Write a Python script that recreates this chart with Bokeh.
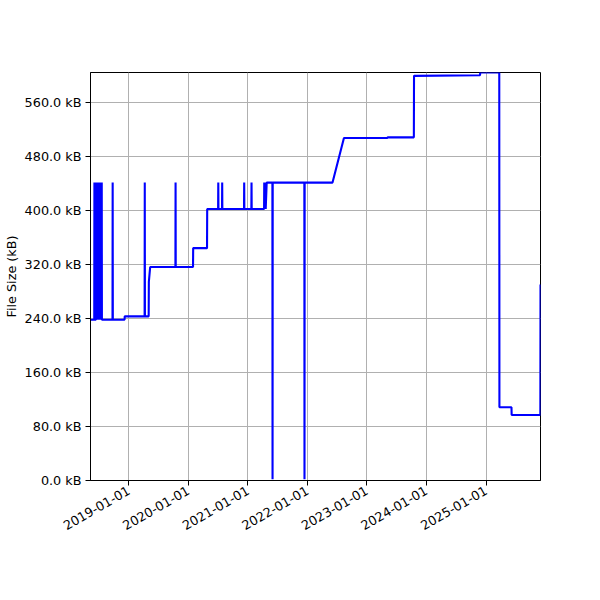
import math

import pandas as pd
from bokeh.plotting import figure
from bokeh.models import Range1d, FixedTicker, DatetimeTickFormatter, PrintfTickFormatter
from bokeh.embed import file_html
from bokeh.resources import INLINE

# file size of the tracked file at each commit (kB)
commit_dates = [
    "2018-05-11", "2018-06-03", "2018-06-04", "2018-06-05", "2018-06-13",
    "2018-06-14", "2018-06-17", "2018-06-20", "2018-06-23", "2018-06-26",
    "2018-06-29", "2018-07-02", "2018-07-05", "2018-07-08", "2018-07-11",
    "2018-07-14", "2018-07-17", "2018-07-19", "2018-07-20",
    "2018-09-23", "2018-09-24", "2018-09-25",
    "2018-12-06", "2018-12-07",
    "2019-04-08", "2019-04-09", "2019-04-10",
    "2019-05-03", "2019-05-04", "2019-05-12",
    "2019-10-14", "2019-10-15", "2019-10-16",
    "2020-01-30", "2020-01-31",
    "2020-04-25", "2020-04-26",
    "2020-07-02", "2020-07-03", "2020-07-04",
    "2020-07-26", "2020-07-27", "2020-07-28",
    "2020-12-08", "2020-12-09", "2020-12-10",
    "2021-01-22", "2021-01-23", "2021-01-24",
    "2021-04-10", "2021-04-11", "2021-04-13", "2021-04-18", "2021-04-20",
    "2021-04-26",
    "2021-05-31", "2021-06-01", "2021-06-02",
    "2021-12-13", "2021-12-14", "2021-12-15",
    "2022-06-04", "2022-08-13",
    "2023-05-07", "2023-05-08",
    "2023-10-16", "2023-10-17",
    "2024-11-25", "2024-11-26",
    "2025-03-23", "2025-03-24",
    "2025-06-06", "2025-06-07",
    "2025-11-30", "2025-12-01",
]
file_size_kb = [
    238, 238, 441, 238, 238,
    441, 238, 441, 238, 441,
    238, 441, 238, 441, 238,
    441, 238, 441, 238,
    238, 441, 238,
    238, 243,
    243, 441, 243,
    243, 294, 316,
    316, 441, 316,
    316, 344,
    344, 402,
    402, 441, 402,
    402, 441, 402,
    402, 441, 402,
    402, 441, 402,
    402, 441, 402, 441, 402,
    441,
    441, 2, 441,
    441, 2, 441,
    441, 507,
    507, 508,
    508, 599,
    600, 604,
    604, 108.5,
    108.5, 97,
    97, 290,
]
year_ticks = ["2019-01-01", "2020-01-01", "2021-01-01", "2022-01-01",
              "2023-01-01", "2024-01-01", "2025-01-01"]
size_ticks = [0, 80, 160, 240, 320, 400, 480, 560]

dates = pd.to_datetime(commit_dates)
font = "DejaVu Sans"
fs = "12.8px"

p = figure(
    frame_width=450, frame_height=408,
    x_axis_type="datetime",
    x_range=Range1d(dates[0], dates[-1]),
    y_range=Range1d(0, 604),
    output_backend="svg",
    toolbar_location=None,
    min_border_left=90, min_border_right=52,
    min_border_top=72, min_border_bottom=112,
    y_axis_label="File Size (kB)",
)

p.line(dates, file_size_kb, line_color="blue", line_width=2.1)

p.xaxis.ticker = FixedTicker(ticks=[pd.Timestamp(t).value / 1e6 for t in year_ticks])
p.xaxis.formatter = DatetimeTickFormatter(years="%Y-%m-%d", months="%Y-%m-%d",
                                          days="%Y-%m-%d")
p.xaxis.major_label_orientation = math.pi / 6
p.yaxis.ticker = FixedTicker(ticks=size_ticks)
p.yaxis.formatter = PrintfTickFormatter(format="%.1f kB")

for ax in (p.xaxis, p.yaxis):
    ax.axis_line_color = "black"
    ax.major_tick_line_color = "black"
    ax.major_tick_out = 5
    ax.major_tick_in = 0
    ax.minor_tick_line_color = None
    ax.major_label_standoff = 4
    ax.major_label_text_font = font
    ax.major_label_text_font_size = fs
    ax.major_label_text_color = "black"
    ax.axis_label_standoff = 3
    ax.axis_label_text_font = font
    ax.axis_label_text_font_size = fs
    ax.axis_label_text_font_style = "normal"
    ax.axis_label_text_color = "black"

p.grid.grid_line_color = "#b0b0b0"
p.grid.grid_line_width = 1
p.outline_line_color = "black"
p.outline_line_width = 1
p.background_fill_color = "white"
p.border_fill_color = "white"

open("out.html", "w").write(file_html(p, INLINE))
